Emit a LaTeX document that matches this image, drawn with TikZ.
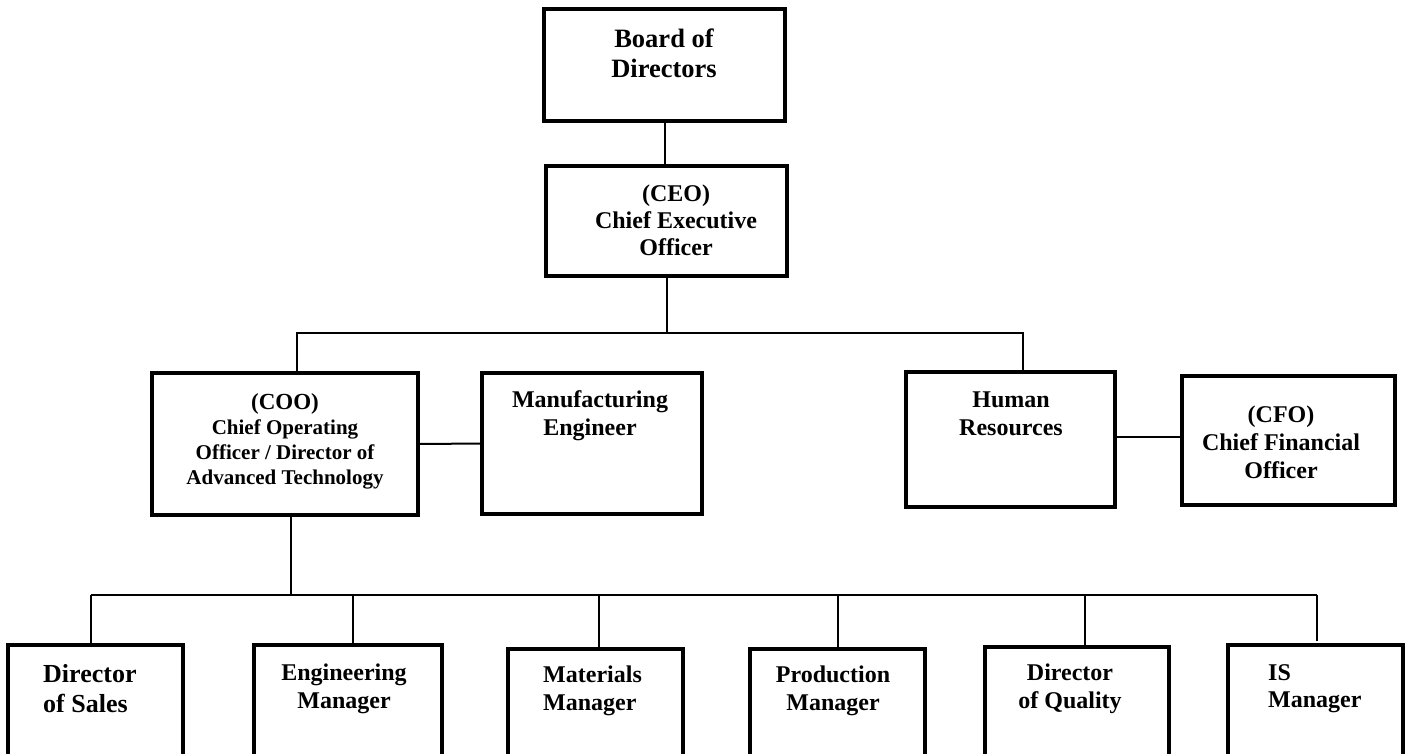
\documentclass[tikz,border=0pt]{standalone}
\usepackage{fontspec}
\setmainfont{Liberation Serif}
\usepackage{tikz}
\usetikzlibrary{calc}
\tikzset{
	box/.style={draw, rectangle, line width=3.5pt, inner sep=0pt, outer sep=0pt},
	link/.style={line width=2pt},
	lbl/.style 2 args={font=\fontsize{#1pt}{#2pt}\selectfont\bfseries, align=center, anchor=base, inner sep=0pt}
}

\begin{document}
\begin{tikzpicture}[x=1pt, y=-1pt]

	\useasboundingbox (0,0) rectangle (1407,753);
	\clip (0,0) rectangle (1407,753);

	\node[box, minimum width=241pt, minimum height=112pt] (board) at (664.5,65) {};
	\node[box, minimum width=241pt, minimum height=110pt] (ceo) at (666.5,221) {};
	\node[box, minimum width=266pt, minimum height=142pt] (coo) at (285,444) {};
	\node[box, minimum width=220pt, minimum height=141pt] (mfg) at (592,443.5) {};
	\node[box, minimum width=209pt, minimum height=135pt] (hr) at (1010.5,439.5) {};
	\node[box, minimum width=213pt, minimum height=129pt] (cfo) at (1288.5,440.5) {};

	% bottom row, cut off by the page
	\foreach \n/\x/\w/\t in {sales/95.5/175/645, eng/348/188/645, mat/595.5/175/649, prod/837.5/175/649, qual/1077/184/647, is/1315.5/175/645}
		\node[box, anchor=north, minimum width=\w pt, minimum height=200pt] (\n) at (\x,\t) {};

	\coordinate (topbus) at (0,333);
	\coordinate (lowbus) at (0,595);
	\coordinate (coo-in) at ([xshift=12pt]coo.north);
	\coordinate (hr-in) at ([xshift=12.5pt]hr.north);
	\coordinate (coo-out) at ([xshift=6pt]coo.south);
	\coordinate (hr-out) at ([yshift=3pt]hr.east);

	\draw[link] (board.south) -- (board.south |- ceo.north);
	\draw[link] (ceo.south) -- (ceo.south |- topbus);
	\draw[link] (coo-in) -- (coo-in |- topbus) -| (hr-in);
	\draw[link] (coo.east) -- (mfg.west);
	\draw[link] (hr-out) -- (hr-out -| cfo.west);
	\draw[link] (coo-out) -- (coo-out |- lowbus);

	\foreach \n/\s/\g in {sales/-4.5/0, eng/5/0, mat/3.5/0, prod/0/0, qual/8/0, is/1.5/4} {
		\coordinate (\n-in) at ([xshift=\s pt]\n.north);
		\draw[link, shorten <=\g pt] (\n-in) -- (\n-in |- lowbus);
	}
	\draw[link] (sales-in |- lowbus) -- (is-in |- lowbus);

	% anchor base sits on the last line
	\node[lbl={26.5}{30}] (board-t) at (664,77) {Board of\\Directors};
	\node[lbl={24}{27}] (ceo-t) at (676,255) {(CEO)\\Chief Executive\\Officer};
	\node[lbl={21}{25}] (coo-t) at (285,484) {{\fontsize{23pt}{25pt}\selectfont (COO)}\\Chief Operating\\Officer / Director of\\Advanced Technology};
	\node[lbl={24}{28}] (mfg-t) at (590,435) {Manufacturing\\Engineer};
	\node[lbl={24}{28}] (hr-t) at (1011,435) {Human\\Resources};
	\node[lbl={24}{28}] (cfo-t) at (1281,478) {(CFO)\\Chief Financial\\Officer};
	\node[lbl={26}{30}, align=left, anchor=base west] (sales-t) at (43,712) {Director\\of Sales};
	\node[lbl={24}{28}] (eng-t) at (344,708) {Engineering\\Manager};
	\node[lbl={24}{28}, align=left, anchor=base west] (mat-t) at (543,710) {Materials\\Manager};
	\node[lbl={24}{28}] (prod-t) at (833,710) {Production\\Manager};
	\node[lbl={24}{28}] (qual-t) at (1070,708) {Director\\of Quality};
	\node[lbl={24}{27}, align=left, anchor=base west] (is-t) at (1268,707) {IS\\Manager};
\end{tikzpicture}
\end{document}
